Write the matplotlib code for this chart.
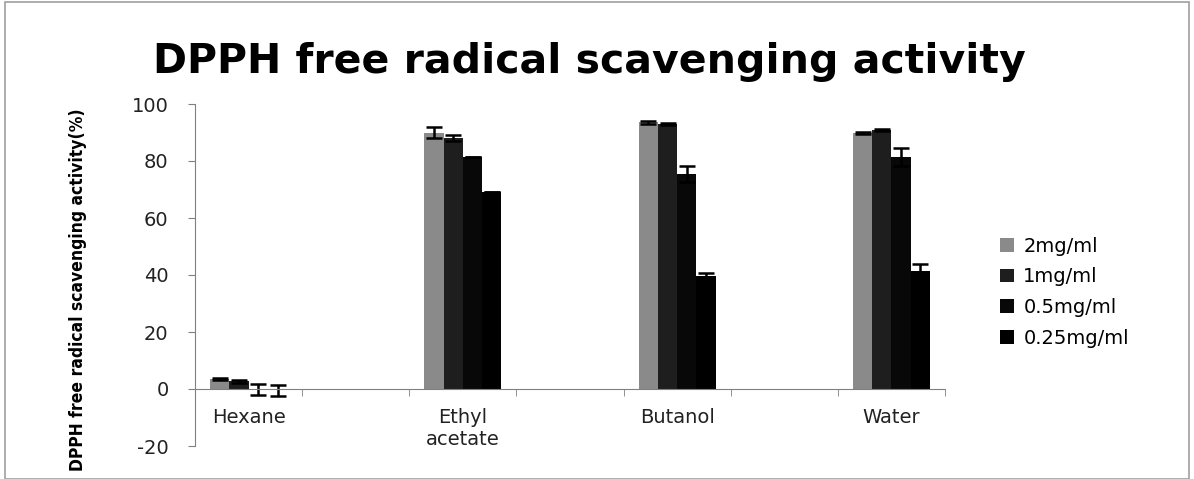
import numpy as np
import matplotlib.pyplot as plt
from matplotlib.patches import Rectangle

plt.rcParams['axes.unicode_minus'] = False

# extracts (Excel chart had empty category slots between them)
categories = ['Hexane', 'Ethyl\nacetate', 'Butanol', 'Water']
series = ['2mg/ml', '1mg/ml', '0.5mg/ml', '0.25mg/ml']

act_2 = [3.4, 90.0, 93.6, 89.8]
act_1 = [2.7, 88.0, 93.1, 91.0]
act_05 = [-0.1, 81.5, 75.4, 81.5]
act_025 = [-0.5, 69.2, 39.6, 41.4]

err_2 = [0.4, 2.0, 0.5, 0.3]
err_1 = [0.6, 1.0, 0.3, 0.3]
err_05 = [1.9, 0.0, 2.8, 3.2]
err_025 = [2.0, 0.0, 1.0, 2.5]

yticks = [-20, 0, 20, 40, 60, 80, 100]

values = [act_2, act_1, act_05, act_025]
errors = [err_2, err_1, err_05, err_025]
colors = ['#8a8a8a', '#1e1e1e', '#080808', '#000000']

fig = plt.figure(figsize=(11.94, 4.79), dpi=100)
ax = fig.add_axes([195/1194, 1-446/479, 750/1194, 342/479])

x = np.arange(len(categories)) * 2
w = 0.18
for i, (vals, errs) in enumerate(zip(values, errors)):
    ax.bar(x + (i - 1.5) * w, vals, w, color=colors[i], label=series[i],
           yerr=errs, capsize=6, error_kw=dict(ecolor='black', elinewidth=1.8, capthick=1.8))

ax.set_xlim(-0.5, 6.5)
ax.set_ylim(-20, 100)
ax.set_yticks(yticks)
ax.set_xticks(x)
ax.set_xticklabels(categories, linespacing=1.0)
ax.set_xticks(np.arange(-0.5, 7, 1), minor=True)
ax.tick_params(axis='x', which='major', length=0, pad=14, labelsize=14, labelcolor='#222222')
ax.tick_params(axis='x', which='minor', length=5, color='#808080', direction='out')
ax.tick_params(axis='y', length=5, color='#808080', labelsize=14, labelcolor='#222222', pad=14)

for s in ['top', 'right']:
    ax.spines[s].set_visible(False)
ax.spines['bottom'].set_position(('data', 0))
ax.spines['bottom'].set_color('#808080')
ax.spines['left'].set_color('#808080')

fig.text(589/1194, 1-73/479, 'DPPH free radical scavenging activity',
         ha='center', va='baseline', fontsize=29.5, fontweight='bold', family='DejaVu Sans')
fig.text(78/1194, 1-290/479, 'DPPH free radical scavenging activity(%)',
         rotation=90, ha='center', va='center', fontsize=12.5, fontweight='bold',
         family='DejaVu Sans', fontstretch='condensed')

ax.legend(loc='center left', bbox_to_anchor=(1000/1194, 1-292/479), bbox_transform=fig.transFigure,
          frameon=False, fontsize=14, handlelength=0.7, handleheight=0.7,
          handletextpad=0.5, labelspacing=0.6, borderpad=0, borderaxespad=0)

fig.patches.append(Rectangle((5/1194, 0), 1184/1194, 1-2/479, transform=fig.transFigure,
                             fill=False, edgecolor='#a0a0a0', linewidth=1.2))

fig.savefig('out.png', dpi=100)
